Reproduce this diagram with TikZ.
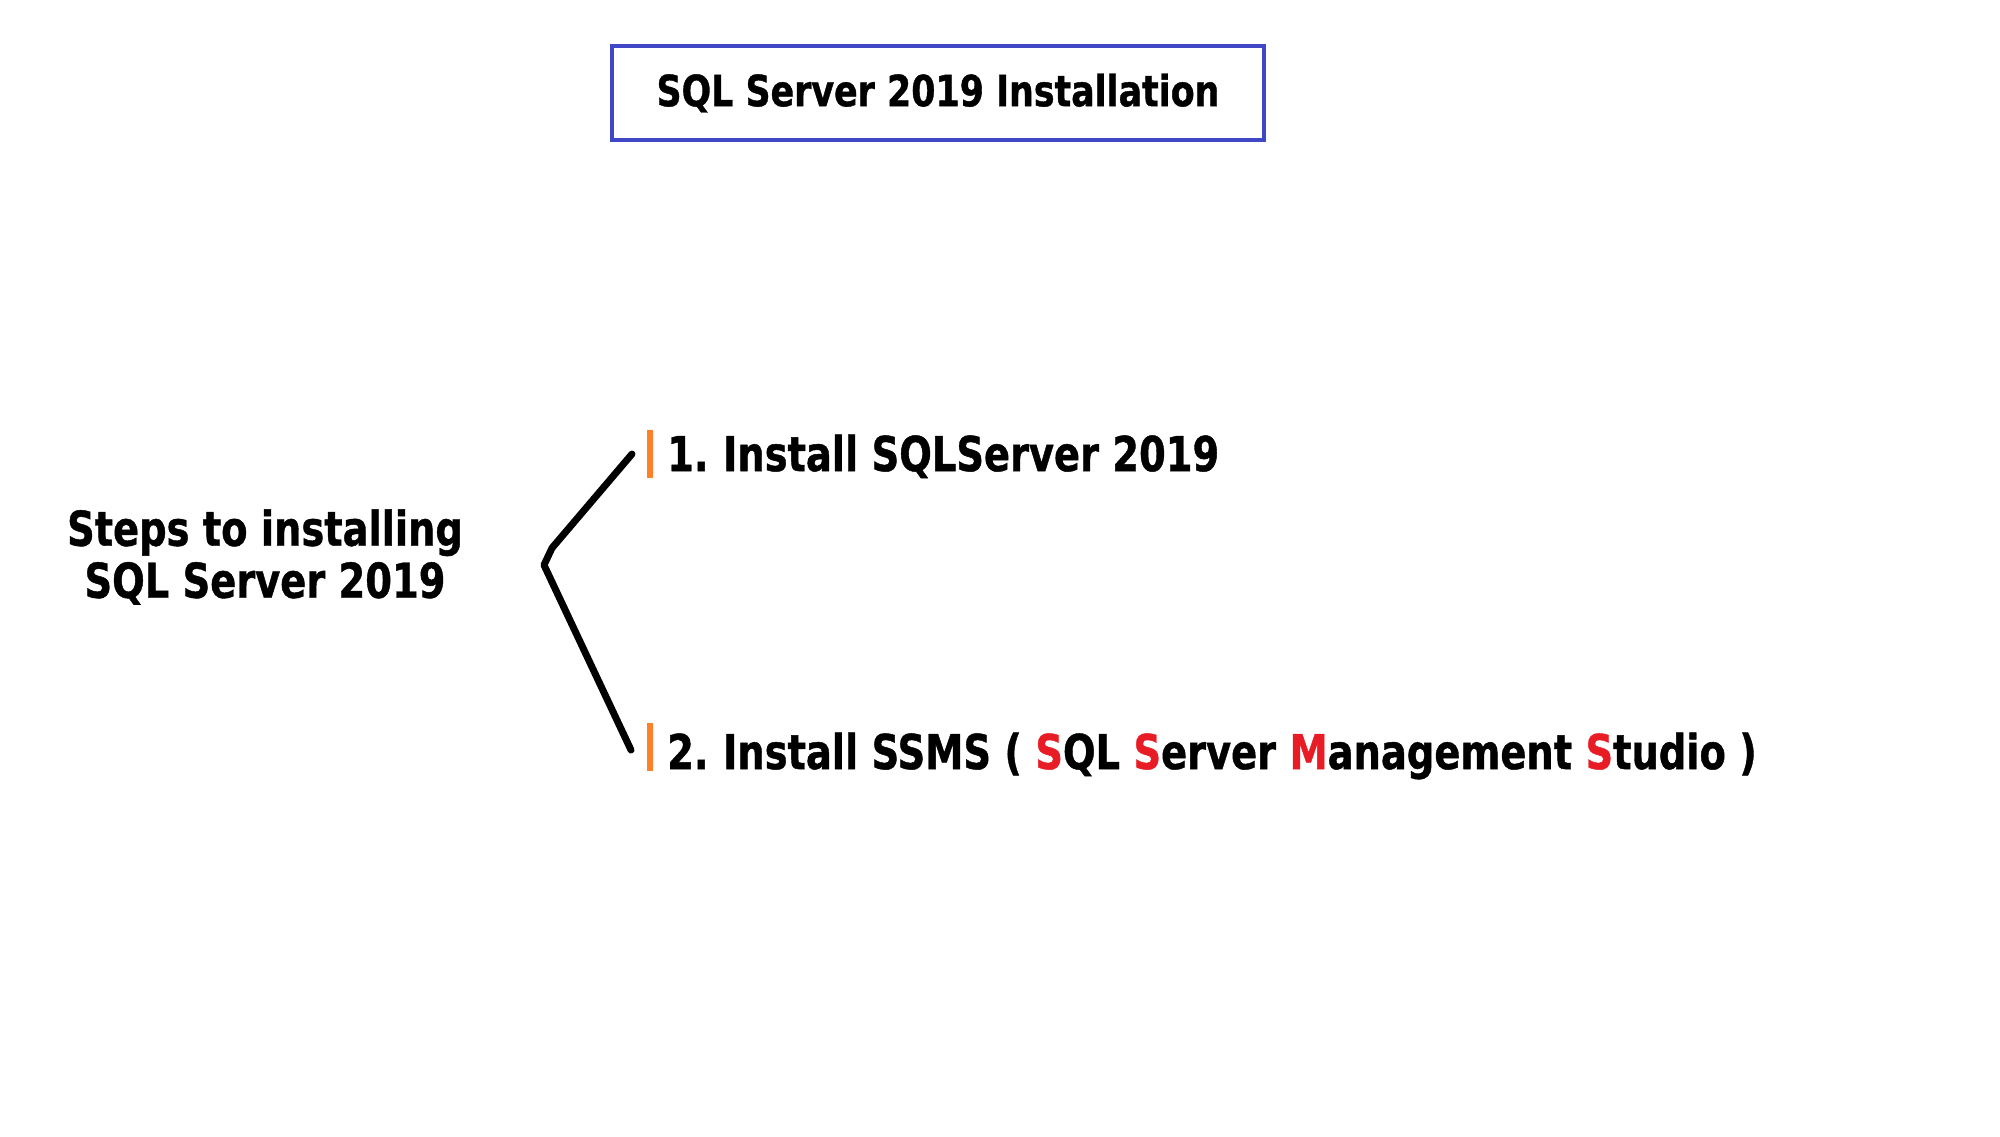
\documentclass[tikz,border=0pt]{standalone}
\usepackage{fontspec}
\setmainfont{DejaVu Sans}[BoldFeatures={FakeBold=1}]
\definecolor{boxblue}{RGB}{64,72,200}
\definecolor{barorange}{RGB}{255,128,40}
\definecolor{hired}{RGB}{232,28,36}
\newcommand{\R}[1]{\textcolor{hired}{#1}}
\begin{document}
\begin{tikzpicture}[x=1pt,y=-1pt,
  txt/.style={inner sep=0pt, font=\fontsize{48}{54}\selectfont\bfseries},
  ttl/.style={inner sep=0pt, font=\fontsize{43}{50}\selectfont\bfseries},
  bar/.style={fill=barorange, draw=none, minimum width=6pt, minimum height=48pt, inner sep=0pt},
  brace/.style={line width=7pt, line cap=round, line join=round}]
\useasboundingbox (0,0) rectangle (2000,1136);
\node[draw=boxblue, line width=4pt, minimum width=652pt, minimum height=94pt] (title) at (938,93) {};
\node[ttl] (titletext) at (938,93) {\scalebox{0.81}[1]{SQL Server 2019 Installation}};
\node[txt, align=center] (steps) at (265,557) {\scalebox{0.8}[1]{Steps to installing}\\[-2pt]\scalebox{0.8}[1]{SQL Server 2019}};
\node[bar] (bar1) at (650,454) {};
\node[bar] (bar2) at (650,747) {};
\node[txt, anchor=base west] (item1) at (667,471) {\scalebox{0.8}[1]{1.\kern-4pt{} Install SQLServer 2019}};
\node[txt, anchor=base west] (item2) at (667,769) {\scalebox{0.8}[1]{2.\kern-4pt{} Install SSMS ( \R{S}QL \R{S}erver \R{M}anagement \R{S}tudio )}};
\coordinate (a1) at (632,454);
\coordinate (k) at (552,548);
\coordinate (v) at (544,565);
\coordinate (a2) at (631,750);
\draw[brace] (a1) -- (k) -- (v) -- (a2);
\end{tikzpicture}
\end{document}
